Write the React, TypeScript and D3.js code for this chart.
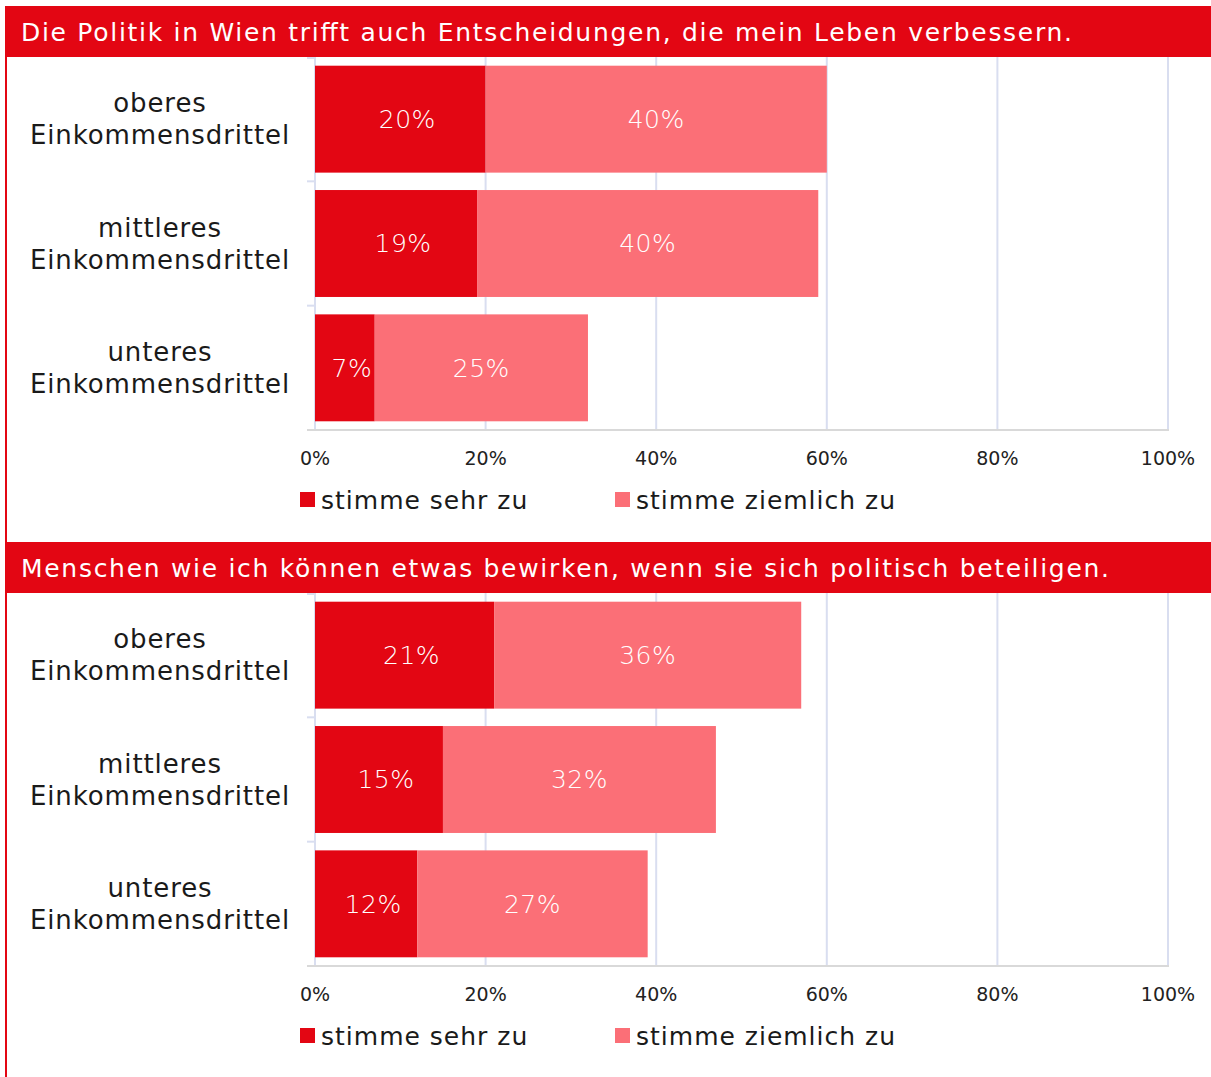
import * as d3 from 'd3'

// data
const categories = ['oberes Einkommensdrittel', 'mittleres Einkommensdrittel', 'unteres Einkommensdrittel']
const titles = [
  'Die Politik in Wien trifft auch Entscheidungen, die mein Leben verbessern.',
  'Menschen wie ich können etwas bewirken, wenn sie sich politisch beteiligen.',
]
const titleWidths = [1051, 1088]
const sehrZu1 = [20, 19, 7]
const ziemlichZu1 = [40, 40, 25]
const sehrZu2 = [21, 15, 12]
const ziemlichZu2 = [36, 32, 27]
const ticks = [0, 20, 40, 60, 80, 100]
const seriesNames = ['stimme sehr zu', 'stimme ziemlich zu']

const W = 1211, H = 1077
const FONT = '"DejaVu Sans", sans-serif'
const DARK = '#e30613'
const LIGHT = '#fb6f77'
const GRID = '#d9def0'

function Chart({ title, titleW, sehr, ziemlich, top }: { title: string, titleW: number, sehr: number[], ziemlich: number[], top: number }) {
  const x = d3.scaleLinear().domain([0, 100]).range([315, 1168])
  const y = d3.scaleBand<string>().domain(categories).range([top + 51, top + 424])
    .paddingInner(0.14).paddingOuter(0.07)
  const axisY = top + 424

  return (
    <g>
      {/* title banner */}
      <rect x={5} y={top} width={W - 5} height={51} fill={DARK} />
      <text x={21} y={top + 26} dy="0.35em" fill="#fff" fontSize={25} fontFamily={FONT}
        textLength={titleW} lengthAdjust="spacing">{title}</text>

      {/* grid */}
      {ticks.map(t => (
        <line key={t} x1={x(t)} x2={x(t)} y1={top + 51} y2={axisY} stroke={GRID} strokeWidth={2} />
      ))}
      {/* category ticks */}
      {[...categories.map(c => y(c)! - y.step() * y.paddingInner() / 2), axisY].map((v, i) => (
        <line key={i} x1={307} x2={315} y1={i === 0 ? top + 52 : v} y2={i === 0 ? top + 52 : v} stroke={GRID} strokeWidth={2} />
      ))}
      <line x1={307} x2={1169} y1={axisY} y2={axisY} stroke="#d9d9d9" strokeWidth={2} />

      {/* bars */}
      {categories.map((c, i) => {
        const y0 = y(c)!
        const bw = y.bandwidth()
        const cy = y0 + bw / 2
        const [l1, l2] = [c.split(' ')[0], c.split(' ')[1]]
        return (
          <g key={c}>
            <rect x={x(0)} y={y0} width={x(sehr[i]) - x(0)} height={bw} fill={DARK} />
            <rect x={x(sehr[i])} y={y0} width={x(sehr[i] + ziemlich[i]) - x(sehr[i])} height={bw} fill={LIGHT} />
            <text x={(x(0) + x(sehr[i])) / 2 + 7} y={cy} dy="0.35em" textAnchor="middle" fill="#fff" fontSize={25} letterSpacing={0.5} fontFamily={FONT} fontWeight={300}>{sehr[i]}%</text>
            <text x={(x(sehr[i]) + x(sehr[i] + ziemlich[i])) / 2} y={cy} dy="0.35em" textAnchor="middle" fill="#fff" fontSize={25} letterSpacing={0.5} fontFamily={FONT} fontWeight={300}>{ziemlich[i]}%</text>
            <text x={160} y={cy - 16} dy="0.35em" textAnchor="middle" fill="#1a1a1a" fontSize={26} letterSpacing={0.9} fontFamily={FONT}>{l1}</text>
            <text x={160} y={cy + 16} dy="0.35em" textAnchor="middle" fill="#1a1a1a" fontSize={26} letterSpacing={0.9} fontFamily={FONT}>{l2}</text>
          </g>
        )
      })}

      {/* tick labels */}
      {ticks.map(t => (
        <text key={t} x={x(t)} y={axisY + 28} dy="0.35em" textAnchor="middle" fill="#222" fontSize={19} fontFamily={FONT}>{t}%</text>
      ))}

      {/* legend */}
      {seriesNames.map((s, i) => {
        const lx = i === 0 ? 300 : 615
        return (
          <g key={s}>
            <rect x={lx} y={axisY + 62} width={15} height={15} fill={i === 0 ? DARK : LIGHT} />
            <text x={lx + 21} y={axisY + 70} dy="0.35em" fill="#1a1a1a" fontSize={25} letterSpacing={1} fontFamily={FONT}>{s}</text>
          </g>
        )
      })}
    </g>
  )
}

export default function App() {
  return (
    <div style={{ position: 'absolute', left: 0, top: 0 }}>
      <svg width={W} height={H} style={{ display: 'block', background: '#fff' }}>
        <rect x={5} y={6} width={2} height={H - 6} fill={DARK} />
        <Chart title={titles[0]} titleW={titleWidths[0]} sehr={sehrZu1} ziemlich={ziemlichZu1} top={6} />
        <Chart title={titles[1]} titleW={titleWidths[1]} sehr={sehrZu2} ziemlich={ziemlichZu2} top={542} />
      </svg>
    </div>
  )
}
